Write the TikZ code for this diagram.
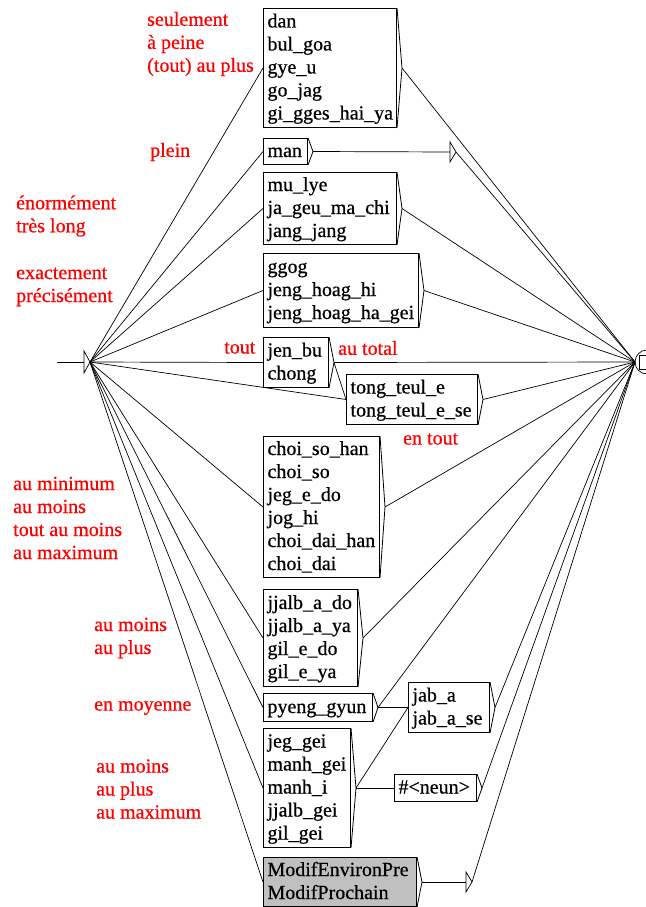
\documentclass[tikz,border=0pt]{standalone}
\usepackage{fontspec}
\setmainfont{Liberation Serif}[FakeBold=0.6]
\newcommand\ufont{\fontsize{20}{23}\selectfont}
\definecolor{ugray}{RGB}{192,192,192}
\newcommand\ubox[7][white]{%
  \pgfmathsetmacro\uw{#5-#3-8}%
  \pgfmathsetmacro\uh{#6-#4}%
  \node[box, fill=#1, text width=\uw pt, minimum height=\uh pt] (#2) at (#3,#4) {\rule{0pt}{17pt}#7\rule[-6pt]{0pt}{6pt}};
  \draw[boxline] (#2.north east) -- ([xshift=5pt]#2.east) coordinate (#2-o) -- (#2.south east);
}
\begin{document}
\begin{tikzpicture}[x=1pt,y=-1pt,
  box/.style={draw, line width=1pt, anchor=north west, inner xsep=4pt, inner ysep=0pt, align=left, font=\ufont},
  boxline/.style={line width=0.8pt},
  comtext/.style={anchor=west, inner sep=0pt, align=left, text=red, font=\ufont},
  tr/.style={line width=0.7pt}]
\useasboundingbox (0,0) rectangle (645,907);

% boxes
\ubox{dan}{263}{8}{396}{127}{dan\\bul\_goa\\gye\_u\\go\_jag\\gi\_gges\_hai\_ya}
\ubox{man}{263}{138}{307}{164}{man}
\ubox{mulye}{263}{172}{396}{244}{mu\_lye\\ja\_geu\_ma\_chi\\jang\_jang}
\ubox{ggog}{263}{253}{418}{327}{ggog\\jeng\_hoag\_hi\\jeng\_hoag\_ha\_gei}
\ubox{jenbu}{263}{337}{328}{387}{jen\_bu\\chong}
\ubox{tong}{346}{374}{477}{424}{tong\_teul\_e\\tong\_teul\_e\_se}
\ubox{choi}{263}{436}{379}{577}{choi\_so\_han\\choi\_so\\jeg\_e\_do\\jog\_hi\\choi\_dai\_han\\choi\_dai}
\ubox{jjalb}{263}{589}{357}{686}{jjalb\_a\_do\\jjalb\_a\_ya\\gil\_e\_do\\gil\_e\_ya}
\ubox{pyeng}{263}{693}{372}{721}{pyeng\_gyun}
\ubox{jab}{408}{682}{489}{732}{jab\_a\\jab\_a\_se}
\ubox{jeg}{263}{728}{350}{847}{jeg\_gei\\manh\_gei\\manh\_i\\jjalb\_gei\\gil\_gei}
\ubox{neun}{394}{774}{476}{801}{\#<neun>}
\ubox[ugray]{modif}{263}{857}{416}{906}{ModifEnvironPre\\ModifProchain}

% initial state
\coordinate (in) at (57,362);
\coordinate (init-w) at (84,362);
\coordinate (init) at (90,362);
\draw[tr] (in) -- (init-w);
\draw[tr] (84,351) -- (84,373) -- (init) -- cycle;

% final state
\coordinate (fin) at (635,362);
\draw[tr] (647,362) circle (12);
\draw[tr] (639,355) rectangle (655,369);

% empty transitions
\coordinate (e1) at (450,152);
\coordinate (e1-o) at (456,152);
\draw[tr] (e1) ++(0,-10) -- ++(0,20) -- (e1-o) -- cycle;
\coordinate (e2) at (466,882);
\coordinate (e2-o) at (472,882);
\draw[tr] (e2) ++(0,-10) -- ++(0,20) -- (e2-o) -- cycle;

% transitions
\foreach \n in {dan,man,mulye,ggog,jenbu,tong,choi,jjalb,pyeng,jeg,modif}
  \draw[tr] (init) -- (\n.west);
\foreach \n in {dan-o,e1-o,mulye-o,ggog-o,jenbu-o,tong-o,choi-o,jjalb-o,pyeng-o,jab-o,neun-o,e2-o}
  \draw[tr] (\n) -- (fin);
\draw[tr] (man-o) -- (e1);
\draw[tr] (jenbu-o) -- (tong.west);
\draw[tr] (pyeng-o) -- (jab.west);
\draw[tr] (jeg-o) -- (jab.west);
\draw[tr] (jeg-o) -- (neun.west);
\draw[tr] (modif-o) -- (e2);

% comments
\node[comtext] (c1) at (147,44) {seulement\\à peine\\(tout) au plus};
\node[comtext] (c2) at (150,152) {plein};
\node[comtext] (c3) at (16,216) {énormément\\très long};
\node[comtext] (c4) at (16,287) {exactement\\précisément};
\node[comtext] (c5) at (224,348) {tout};
\node[comtext] (c6) at (338,348) {au total};
\node[comtext] (c7) at (403,439) {en tout};
\node[comtext] (c8) at (13,518) {au minimum\\au moins\\tout au moins\\au maximum};
\node[comtext] (c9) at (94,638) {au moins\\au plus};
\node[comtext] (c10) at (94,708) {en moyenne};
\node[comtext] (c11) at (96,789) {au moins\\au plus\\au maximum};
\end{tikzpicture}
\end{document}
